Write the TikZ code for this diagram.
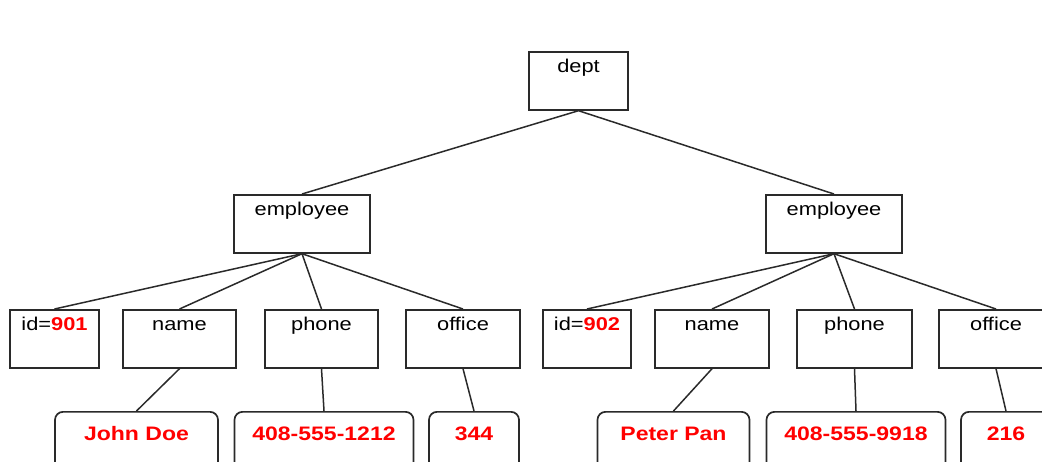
\documentclass[tikz,border=0pt]{standalone}
\usepackage{fontspec}
\setmainfont[FakeStretch=1.18]{Liberation Sans}
\definecolor{edge}{HTML}{2A2A2A}
\definecolor{txtred}{HTML}{FF0000}
\begin{document}
\begin{tikzpicture}[x=1pt,y=-1pt,
  box/.style={draw=edge, line width=1.7pt, fill=white, inner sep=0pt, anchor=north,
    minimum height=58pt, text height=21pt, text depth=37pt, font=\fontsize{18.5}{20}\selectfont},
  valbox/.style={draw=edge, line width=1.7pt, fill=white, rounded corners=8pt, inner sep=0pt, anchor=north,
    minimum height=62pt, text height=29pt, text depth=33pt, text=txtred, font=\fontsize{19.5}{21}\selectfont\bfseries},
  conn/.style={draw=edge, line width=1.5pt}]
\useasboundingbox (0,0) rectangle (1042,461);
\clip (0,0) rectangle (1042,461);
% level 0
\node[box, minimum width=99pt] (dept) at (578.5,51) {dept};
% level 1
\node[box, minimum width=136pt] (empL) at (302,194) {employee};
\node[box, minimum width=136pt] (empR) at (834,194) {employee};
% level 2 left
\node[box, minimum width=89pt] (idL) at (54.5,309) {id=\textcolor{txtred}{\bfseries 901}};
\node[box, minimum width=113pt] (nameL) at (179.5,309) {name};
\node[box, minimum width=113pt] (phoneL) at (321.5,309) {phone};
\node[box, minimum width=114pt] (officeL) at (463,309) {office};
% level 2 right
\node[box, minimum width=88pt] (idR) at (587,309) {id=\textcolor{txtred}{\bfseries 902}};
\node[box, minimum width=114pt] (nameR) at (712,309) {name};
\node[box, minimum width=115pt] (phoneR) at (854.5,309) {phone};
\node[box, minimum width=114pt] (officeR) at (996,309) {office};
% level 3
\node[valbox, minimum width=163pt] (jd) at (136.5,411) {John Doe};
\node[valbox, minimum width=179pt] (telL) at (324,411) {408-555-1212};
\node[valbox, minimum width=90pt] (offL) at (474,411) {344};
\node[valbox, minimum width=152pt] (pp) at (673.5,411) {Peter Pan};
\node[valbox, minimum width=179pt] (telR) at (856,411) {408-555-9918};
\node[valbox, minimum width=90pt] (offR) at (1006,411) {216};
% connectors
\draw[conn] (dept.south) -- (empL.north);
\draw[conn] (dept.south) -- (empR.north);
\foreach \c in {idL,nameL,phoneL,officeL} \draw[conn] (empL.south) -- (\c.north);
\foreach \c in {idR,nameR,phoneR,officeR} \draw[conn] (empR.south) -- (\c.north);
\draw[conn] (nameL.south) -- (jd.north);
\draw[conn] (phoneL.south) -- (telL.north);
\draw[conn] (officeL.south) -- (offL.north);
\draw[conn] (nameR.south) -- (pp.north);
\draw[conn] (phoneR.south) -- (telR.north);
\draw[conn] (officeR.south) -- (offR.north);
\end{tikzpicture}
\end{document}
